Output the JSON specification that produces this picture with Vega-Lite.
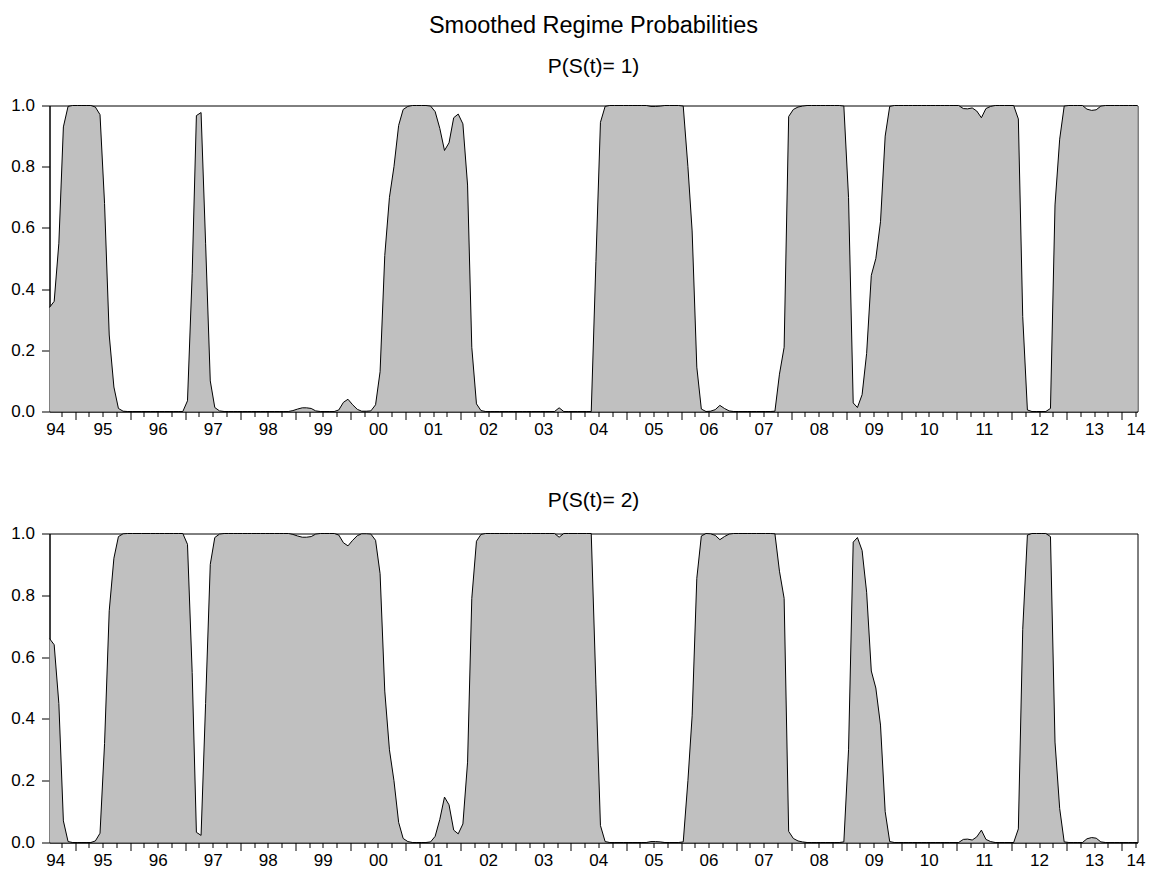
{
"$schema": "https://vega.github.io/schema/vega-lite/v6.json",
"padding": {"left": 9.5, "top": 12.5, "right": 5, "bottom": 5},
"background": "white",
"config": {
  "view": {"stroke": "black", "strokeWidth": 1},
  "font": "Liberation Sans",
  "axis": {"domainColor": "black", "tickColor": "black", "labelColor": "black", "labelFont": "Liberation Sans", "labelFontSize": 17, "grid": false, "tickWidth": 1, "domainWidth": 1}
},
"data": {"values": [
{"date":"1994-07-15","p1":0.34,"p2":0.66},{"date":"1994-08-15","p1":0.36,"p2":0.64},{"date":"1994-09-15","p1":0.55,"p2":0.45},{"date":"1994-10-15","p1":0.93,"p2":0.07},{"date":"1994-11-15","p1":0.997,"p2":0.003},{"date":"1994-12-15","p1":1.0,"p2":0.0},
{"date":"1995-01-15","p1":1.0,"p2":0.0},{"date":"1995-02-15","p1":1.0,"p2":0.0},{"date":"1995-03-15","p1":1.0,"p2":0.0},{"date":"1995-04-15","p1":1.0,"p2":0.0},{"date":"1995-05-15","p1":0.995,"p2":0.005},{"date":"1995-06-15","p1":0.97,"p2":0.03},{"date":"1995-07-15","p1":0.68,"p2":0.32},{"date":"1995-08-15","p1":0.25,"p2":0.75},{"date":"1995-09-15","p1":0.08,"p2":0.92},{"date":"1995-10-15","p1":0.01,"p2":0.99},{"date":"1995-11-15","p1":0.001,"p2":0.999},{"date":"1995-12-15","p1":0.0,"p2":1.0},
{"date":"1996-01-15","p1":0.0,"p2":1.0},{"date":"1996-02-15","p1":0.0,"p2":1.0},{"date":"1996-03-15","p1":0.0,"p2":1.0},{"date":"1996-04-15","p1":0.0,"p2":1.0},{"date":"1996-05-15","p1":0.0,"p2":1.0},{"date":"1996-06-15","p1":0.0,"p2":1.0},{"date":"1996-07-15","p1":0.0,"p2":1.0},{"date":"1996-08-15","p1":0.0,"p2":1.0},{"date":"1996-09-15","p1":0.0,"p2":1.0},{"date":"1996-10-15","p1":0.0,"p2":1.0},{"date":"1996-11-15","p1":0.0,"p2":1.0},{"date":"1996-12-15","p1":0.0,"p2":1.0},
{"date":"1997-01-15","p1":0.035,"p2":0.965},{"date":"1997-02-15","p1":0.45,"p2":0.55},{"date":"1997-03-15","p1":0.967,"p2":0.033},{"date":"1997-04-15","p1":0.977,"p2":0.023},{"date":"1997-05-15","p1":0.55,"p2":0.45},{"date":"1997-06-15","p1":0.1,"p2":0.9},{"date":"1997-07-15","p1":0.013,"p2":0.987},{"date":"1997-08-15","p1":0.002,"p2":0.998},{"date":"1997-09-15","p1":0.0,"p2":1.0},{"date":"1997-10-15","p1":0.0,"p2":1.0},{"date":"1997-11-15","p1":0.0,"p2":1.0},{"date":"1997-12-15","p1":0.0,"p2":1.0},
{"date":"1998-01-15","p1":0.0,"p2":1.0},{"date":"1998-02-15","p1":0.0,"p2":1.0},{"date":"1998-03-15","p1":0.0,"p2":1.0},{"date":"1998-04-15","p1":0.0,"p2":1.0},{"date":"1998-05-15","p1":0.0,"p2":1.0},{"date":"1998-06-15","p1":0.0,"p2":1.0},{"date":"1998-07-15","p1":0.0,"p2":1.0},{"date":"1998-08-15","p1":0.0,"p2":1.0},{"date":"1998-09-15","p1":0.0,"p2":1.0},{"date":"1998-10-15","p1":0.0,"p2":1.0},{"date":"1998-11-15","p1":0.0,"p2":1.0},{"date":"1998-12-15","p1":0.003,"p2":0.997},
{"date":"1999-01-15","p1":0.008,"p2":0.992},{"date":"1999-02-15","p1":0.012,"p2":0.988},{"date":"1999-03-15","p1":0.012,"p2":0.988},{"date":"1999-04-15","p1":0.01,"p2":0.99},{"date":"1999-05-15","p1":0.002,"p2":0.998},{"date":"1999-06-15","p1":0.0,"p2":1.0},{"date":"1999-07-15","p1":0.0,"p2":1.0},{"date":"1999-08-15","p1":0.0,"p2":1.0},{"date":"1999-09-15","p1":0.0,"p2":1.0},{"date":"1999-10-15","p1":0.005,"p2":0.995},{"date":"1999-11-15","p1":0.03,"p2":0.97},{"date":"1999-12-15","p1":0.04,"p2":0.96},
{"date":"2000-01-15","p1":0.022,"p2":0.978},{"date":"2000-02-15","p1":0.007,"p2":0.993},{"date":"2000-03-15","p1":0.001,"p2":0.999},{"date":"2000-04-15","p1":0.001,"p2":0.999},{"date":"2000-05-15","p1":0.002,"p2":0.998},{"date":"2000-06-15","p1":0.022,"p2":0.978},{"date":"2000-07-15","p1":0.13,"p2":0.87},{"date":"2000-08-15","p1":0.51,"p2":0.49},{"date":"2000-09-15","p1":0.7,"p2":0.3},{"date":"2000-10-15","p1":0.8,"p2":0.2},{"date":"2000-11-15","p1":0.935,"p2":0.065},{"date":"2000-12-15","p1":0.987,"p2":0.013},
{"date":"2001-01-15","p1":0.997,"p2":0.003},{"date":"2001-02-15","p1":1.0,"p2":0.0},{"date":"2001-03-15","p1":1.0,"p2":0.0},{"date":"2001-04-15","p1":1.0,"p2":0.0},{"date":"2001-05-15","p1":1.0,"p2":0.0},{"date":"2001-06-15","p1":0.998,"p2":0.002},{"date":"2001-07-15","p1":0.98,"p2":0.02},{"date":"2001-08-15","p1":0.925,"p2":0.075},{"date":"2001-09-15","p1":0.853,"p2":0.147},{"date":"2001-10-15","p1":0.878,"p2":0.122},{"date":"2001-11-15","p1":0.96,"p2":0.04},{"date":"2001-12-15","p1":0.972,"p2":0.028},
{"date":"2002-01-15","p1":0.94,"p2":0.06},{"date":"2002-02-15","p1":0.74,"p2":0.26},{"date":"2002-03-15","p1":0.21,"p2":0.79},{"date":"2002-04-15","p1":0.025,"p2":0.975},{"date":"2002-05-15","p1":0.003,"p2":0.997},{"date":"2002-06-15","p1":0.0,"p2":1.0},{"date":"2002-07-15","p1":0.0,"p2":1.0},{"date":"2002-08-15","p1":0.0,"p2":1.0},{"date":"2002-09-15","p1":0.0,"p2":1.0},{"date":"2002-10-15","p1":0.0,"p2":1.0},{"date":"2002-11-15","p1":0.0,"p2":1.0},{"date":"2002-12-15","p1":0.0,"p2":1.0},
{"date":"2003-01-15","p1":0.0,"p2":1.0},{"date":"2003-02-15","p1":0.0,"p2":1.0},{"date":"2003-03-15","p1":0.0,"p2":1.0},{"date":"2003-04-15","p1":0.0,"p2":1.0},{"date":"2003-05-15","p1":0.0,"p2":1.0},{"date":"2003-06-15","p1":0.0,"p2":1.0},{"date":"2003-07-15","p1":0.0,"p2":1.0},{"date":"2003-08-15","p1":0.0,"p2":1.0},{"date":"2003-09-15","p1":0.0,"p2":1.0},{"date":"2003-10-15","p1":0.012,"p2":0.988},{"date":"2003-11-15","p1":0.0,"p2":1.0},{"date":"2003-12-15","p1":0.0,"p2":1.0},
{"date":"2004-01-15","p1":0.0,"p2":1.0},{"date":"2004-02-15","p1":0.0,"p2":1.0},{"date":"2004-03-15","p1":0.0,"p2":1.0},{"date":"2004-04-15","p1":0.0,"p2":1.0},{"date":"2004-05-15","p1":0.0,"p2":1.0},{"date":"2004-06-15","p1":0.49,"p2":0.51},{"date":"2004-07-15","p1":0.945,"p2":0.055},{"date":"2004-08-15","p1":0.997,"p2":0.003},{"date":"2004-09-15","p1":1.0,"p2":0.0},{"date":"2004-10-15","p1":1.0,"p2":0.0},{"date":"2004-11-15","p1":1.0,"p2":0.0},{"date":"2004-12-15","p1":1.0,"p2":0.0},
{"date":"2005-01-15","p1":1.0,"p2":0.0},{"date":"2005-02-15","p1":1.0,"p2":0.0},{"date":"2005-03-15","p1":1.0,"p2":0.0},{"date":"2005-04-15","p1":1.0,"p2":0.0},{"date":"2005-05-15","p1":1.0,"p2":0.0},{"date":"2005-06-15","p1":0.997,"p2":0.003},{"date":"2005-07-15","p1":0.997,"p2":0.003},{"date":"2005-08-15","p1":0.998,"p2":0.002},{"date":"2005-09-15","p1":1.0,"p2":0.0},{"date":"2005-10-15","p1":1.0,"p2":0.0},{"date":"2005-11-15","p1":1.0,"p2":0.0},{"date":"2005-12-15","p1":1.0,"p2":0.0},
{"date":"2006-01-15","p1":0.998,"p2":0.002},{"date":"2006-02-15","p1":0.8,"p2":0.2},{"date":"2006-03-15","p1":0.59,"p2":0.41},{"date":"2006-04-15","p1":0.145,"p2":0.855},{"date":"2006-05-15","p1":0.008,"p2":0.992},{"date":"2006-06-15","p1":0.0,"p2":1.0},{"date":"2006-07-15","p1":0.001,"p2":0.999},{"date":"2006-08-15","p1":0.006,"p2":0.994},{"date":"2006-09-15","p1":0.02,"p2":0.98},{"date":"2006-10-15","p1":0.01,"p2":0.99},{"date":"2006-11-15","p1":0.002,"p2":0.998},{"date":"2006-12-15","p1":0.0,"p2":1.0},
{"date":"2007-01-15","p1":0.0,"p2":1.0},{"date":"2007-02-15","p1":0.0,"p2":1.0},{"date":"2007-03-15","p1":0.0,"p2":1.0},{"date":"2007-04-15","p1":0.0,"p2":1.0},{"date":"2007-05-15","p1":0.0,"p2":1.0},{"date":"2007-06-15","p1":0.0,"p2":1.0},{"date":"2007-07-15","p1":0.0,"p2":1.0},{"date":"2007-08-15","p1":0.0,"p2":1.0},{"date":"2007-09-15","p1":0.001,"p2":0.999},{"date":"2007-10-15","p1":0.122,"p2":0.878},{"date":"2007-11-15","p1":0.21,"p2":0.79},{"date":"2007-12-15","p1":0.964,"p2":0.036},
{"date":"2008-01-15","p1":0.987,"p2":0.013},{"date":"2008-02-15","p1":0.995,"p2":0.005},{"date":"2008-03-15","p1":0.998,"p2":0.002},{"date":"2008-04-15","p1":1.0,"p2":0.0},{"date":"2008-05-15","p1":1.0,"p2":0.0},{"date":"2008-06-15","p1":1.0,"p2":0.0},{"date":"2008-07-15","p1":1.0,"p2":0.0},{"date":"2008-08-15","p1":1.0,"p2":0.0},{"date":"2008-09-15","p1":1.0,"p2":0.0},{"date":"2008-10-15","p1":1.0,"p2":0.0},{"date":"2008-11-15","p1":1.0,"p2":0.0},{"date":"2008-12-15","p1":0.998,"p2":0.002},
{"date":"2009-01-15","p1":0.7,"p2":0.3},{"date":"2009-02-15","p1":0.028,"p2":0.972},{"date":"2009-03-15","p1":0.013,"p2":0.987},{"date":"2009-04-15","p1":0.055,"p2":0.945},{"date":"2009-05-15","p1":0.19,"p2":0.81},{"date":"2009-06-15","p1":0.445,"p2":0.555},{"date":"2009-07-15","p1":0.5,"p2":0.5},{"date":"2009-08-15","p1":0.62,"p2":0.38},{"date":"2009-09-15","p1":0.9,"p2":0.1},{"date":"2009-10-15","p1":0.997,"p2":0.003},{"date":"2009-11-15","p1":1.0,"p2":0.0},{"date":"2009-12-15","p1":1.0,"p2":0.0},
{"date":"2010-01-15","p1":1.0,"p2":0.0},{"date":"2010-02-15","p1":1.0,"p2":0.0},{"date":"2010-03-15","p1":1.0,"p2":0.0},{"date":"2010-04-15","p1":1.0,"p2":0.0},{"date":"2010-05-15","p1":1.0,"p2":0.0},{"date":"2010-06-15","p1":1.0,"p2":0.0},{"date":"2010-07-15","p1":1.0,"p2":0.0},{"date":"2010-08-15","p1":1.0,"p2":0.0},{"date":"2010-09-15","p1":1.0,"p2":0.0},{"date":"2010-10-15","p1":1.0,"p2":0.0},{"date":"2010-11-15","p1":1.0,"p2":0.0},{"date":"2010-12-15","p1":1.0,"p2":0.0},
{"date":"2011-01-15","p1":1.0,"p2":0.0},{"date":"2011-02-15","p1":0.99,"p2":0.01},{"date":"2011-03-15","p1":0.989,"p2":0.011},{"date":"2011-04-15","p1":0.992,"p2":0.008},{"date":"2011-05-15","p1":0.982,"p2":0.018},{"date":"2011-06-15","p1":0.96,"p2":0.04},{"date":"2011-07-15","p1":0.99,"p2":0.01},{"date":"2011-08-15","p1":0.997,"p2":0.003},{"date":"2011-09-15","p1":1.0,"p2":0.0},{"date":"2011-10-15","p1":1.0,"p2":0.0},{"date":"2011-11-15","p1":1.0,"p2":0.0},{"date":"2011-12-15","p1":1.0,"p2":0.0},
{"date":"2012-01-15","p1":1.0,"p2":0.0},{"date":"2012-02-15","p1":0.956,"p2":0.044},{"date":"2012-03-15","p1":0.31,"p2":0.69},{"date":"2012-04-15","p1":0.005,"p2":0.995},{"date":"2012-05-15","p1":0.0,"p2":1.0},{"date":"2012-06-15","p1":0.0,"p2":1.0},{"date":"2012-07-15","p1":0.0,"p2":1.0},{"date":"2012-08-15","p1":0.0,"p2":1.0},{"date":"2012-09-15","p1":0.01,"p2":0.99},{"date":"2012-10-15","p1":0.675,"p2":0.325},{"date":"2012-11-15","p1":0.89,"p2":0.11},{"date":"2012-12-15","p1":0.998,"p2":0.002},
{"date":"2013-01-15","p1":1.0,"p2":0.0},{"date":"2013-02-15","p1":1.0,"p2":0.0},{"date":"2013-03-15","p1":1.0,"p2":0.0},{"date":"2013-04-15","p1":1.0,"p2":0.0},{"date":"2013-05-15","p1":0.988,"p2":0.012},{"date":"2013-06-15","p1":0.984,"p2":0.016},{"date":"2013-07-15","p1":0.986,"p2":0.014},{"date":"2013-08-15","p1":0.998,"p2":0.002},{"date":"2013-09-15","p1":1.0,"p2":0.0},{"date":"2013-10-15","p1":1.0,"p2":0.0},{"date":"2013-11-15","p1":1.0,"p2":0.0},{"date":"2013-12-15","p1":1.0,"p2":0.0},
{"date":"2014-01-15","p1":1.0,"p2":0.0},{"date":"2014-02-15","p1":1.0,"p2":0.0},{"date":"2014-03-15","p1":1.0,"p2":0.0},{"date":"2014-04-15","p1":1.0,"p2":0.0}
]},
"spacing": 47,
"vconcat": [
  {
    "width": 1088, "height": 306,
    "title": {"text": "Smoothed Regime Probabilities", "subtitle": "P(S(t)= 1)", "font": "Liberation Sans", "subtitleFont": "Liberation Sans", "fontSize": 23.5, "fontWeight": "normal", "subtitleFontSize": 21, "subtitleColor": "black", "color": "black", "subtitlePadding": 19, "offset": 19.5, "anchor": "middle", "frame": "group"},
    "encoding": {
      "x": {"field": "date", "type": "temporal", "title": null,
        "scale": {"type": "utc", "nice": false, "domain": [{"year": 1994, "month": 7, "date": 15, "utc": true}, {"year": 2014, "month": 4, "date": 15, "utc": true}]},
        "axis": {"tickCount": {"interval": "month", "step": 3}, "labelOverlap": false, "labelFlush": false, "labelBound": false, "labelPadding": 5,
          "labelExpr": "utcmonth(datum.value) == 6 ? utcFormat(datum.value, '%y') : (utcyear(datum.value) == 1994 ? '94' : ((utcyear(datum.value) == 2014 && utcmonth(datum.value) == 3) ? '14' : ''))",
          "tickSize": {"condition": {"test": "utcmonth(datum.value) == 0", "value": 8}, "value": 5},
          "labelOffset": {"condition": {"test": "utcyear(datum.value) == 1994", "value": -6}, "value": 0}}},
      "y": {"field": "p1", "type": "quantitative", "title": null,
        "scale": {"domain": [0, 1], "nice": false, "zero": true},
        "axis": {"values": [0, 0.2, 0.4, 0.6, 0.8, 1.0], "format": ".1f", "tickSize": 8, "labelPadding": 7, "labelFlush": false, "labelBound": false, "labelOverlap": false}}
    },
    "layer": [
      {"mark": {"type": "area", "color": "#c0c0c0", "interpolate": "linear", "opacity": 1}},
      {"mark": {"type": "line", "color": "black", "strokeWidth": 1, "interpolate": "linear"}}
    ]
  },
  {
    "width": 1088, "height": 309,
    "title": {"text": "P(S(t)= 2)", "font": "Liberation Sans", "fontSize": 21, "fontWeight": "normal", "color": "black", "offset": 14, "anchor": "middle", "frame": "group"},
    "encoding": {
      "x": {"field": "date", "type": "temporal", "title": null,
        "scale": {"type": "utc", "nice": false, "domain": [{"year": 1994, "month": 7, "date": 15, "utc": true}, {"year": 2014, "month": 4, "date": 15, "utc": true}]},
        "axis": {"tickCount": {"interval": "month", "step": 3}, "labelOverlap": false, "labelFlush": false, "labelBound": false, "labelPadding": 5,
          "labelExpr": "utcmonth(datum.value) == 6 ? utcFormat(datum.value, '%y') : (utcyear(datum.value) == 1994 ? '94' : ((utcyear(datum.value) == 2014 && utcmonth(datum.value) == 3) ? '14' : ''))",
          "tickSize": {"condition": {"test": "utcmonth(datum.value) == 0", "value": 8}, "value": 5},
          "labelOffset": {"condition": {"test": "utcyear(datum.value) == 1994", "value": -6}, "value": 0}}},
      "y": {"field": "p2", "type": "quantitative", "title": null,
        "scale": {"domain": [0, 1], "nice": false, "zero": true},
        "axis": {"values": [0, 0.2, 0.4, 0.6, 0.8, 1.0], "format": ".1f", "tickSize": 8, "labelPadding": 7, "labelFlush": false, "labelBound": false, "labelOverlap": false}}
    },
    "layer": [
      {"mark": {"type": "area", "color": "#c0c0c0", "interpolate": "linear", "opacity": 1}},
      {"mark": {"type": "line", "color": "black", "strokeWidth": 1, "interpolate": "linear"}}
    ]
  }
]
}
